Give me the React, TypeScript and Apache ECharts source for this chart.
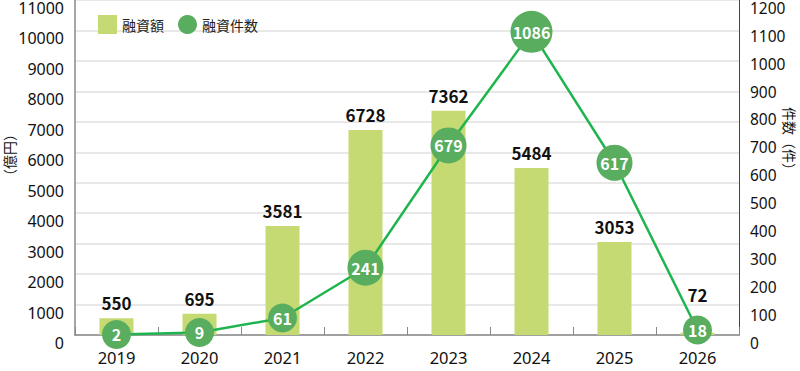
import React, { useEffect, useRef } from "react";
import * as echarts from "echarts";

const years = ["2019", "2020", "2021", "2022", "2023", "2024", "2025", "2026"];
const amounts = [550, 695, 3581, 6728, 7362, 5484, 3053, 72];
const counts = [2, 9, 61, 241, 679, 1086, 617, 18];

const FONT = "'Noto Sans', 'Noto Sans CJK JP', sans-serif";
const CJK = "'Noto Sans CJK JP', sans-serif";

export default function App() {
  const ref = useRef<HTMLDivElement>(null);
  useEffect(() => {
    if (!ref.current) return;
    const chart = echarts.init(ref.current, undefined, { renderer: "svg" });
    const barData = amounts.map((v, i) =>
      i === amounts.length - 1 ? { value: v, label: { distance: 30 } } : v
    );
    chart.setOption({
      animation: false,
      grid: { left: 75, right: 61, top: 0, bottom: 36 },
      legend: {
        left: 93,
        top: 10,
        itemWidth: 19,
        itemHeight: 19,
        itemGap: 14,
        textStyle: { fontFamily: CJK, fontSize: 14, color: "#222" },
        data: [
          { name: "融資額", icon: "rect" },
          { name: "融資件数", icon: "circle" },
        ],
      },
      xAxis: {
        type: "category",
        data: years,
        boundaryGap: true,
        axisLine: { lineStyle: { color: "#888", width: 1.5 } },
        axisTick: { show: true, inside: true, length: 8, lineStyle: { color: "#888" } },
        axisLabel: { fontFamily: FONT, fontSize: 16.5, color: "#111", margin: 14 },
      },
      yAxis: [
        {
          type: "value",
          min: 0,
          max: 11000,
          interval: 1000,
          axisLine: { show: true, lineStyle: { color: "#888", width: 1.5 } },
          axisTick: { show: false },
          splitLine: { lineStyle: { color: "#e0e0e0", width: 1.5 } },
          axisLabel: {
            fontFamily: FONT,
            fontSize: 16,
            color: "#111",
            margin: 11,
            verticalAlign: "top",
            formatter: (v: number) => String(v),
          },
        },
        {
          type: "value",
          min: 0,
          max: 1200,
          interval: 100,
          position: "right",
          axisLine: { show: true, lineStyle: { color: "#444", width: 1 } },
          axisTick: { show: false },
          splitLine: { show: false },
          axisLabel: {
            fontFamily: FONT,
            fontSize: 15.5,
            color: "#111",
            margin: 11,
            verticalAlign: "top",
            formatter: (v: number) => String(v),
          },
        },
      ],
      series: [
        {
          name: "融資額",
          type: "bar",
          data: barData,
          barWidth: 34,
          itemStyle: { color: "#c5da72" },
          label: {
            show: true,
            position: "top",
            distance: 7,
            fontFamily: CJK,
            fontWeight: "bold",
            fontSize: 17,
            color: "#111",
          },
        },
        {
          name: "融資件数",
          type: "line",
          yAxisIndex: 1,
          data: counts,
          symbol: "circle",
          symbolSize: (v: number) => {
            const n = String(v).length;
            return n >= 4 ? 42 : n === 3 ? 36 : 29;
          },
          lineStyle: { color: "#1fb54e", width: 2.5 },
          itemStyle: { color: "#58ad5f" },
          label: {
            show: true,
            position: "inside",
            fontFamily: CJK,
            fontWeight: "bold",
            fontSize: 16,
            color: "#fff",
          },
          z: 3,
        },
      ],
      graphic: [
        {
          type: "text",
          x: 9,
          y: 155,
          rotation: Math.PI / 2,
          style: {
            text: "（億円）",
            fontFamily: CJK,
            fontSize: 14,
            fill: "#111",
            align: "center",
            verticalAlign: "middle",
          },
        },
        {
          type: "text",
          x: 790,
          y: 142,
          rotation: -Math.PI / 2,
          style: {
            text: "件数（件）",
            fontFamily: CJK,
            fontSize: 14,
            fill: "#111",
            align: "center",
            verticalAlign: "middle",
          },
        },
      ],
    });
    return () => chart.dispose();
  }, []);
  return <div ref={ref} style={{ width: 800, height: 371, position: "absolute", left: 0, top: 0 }} />;
}
